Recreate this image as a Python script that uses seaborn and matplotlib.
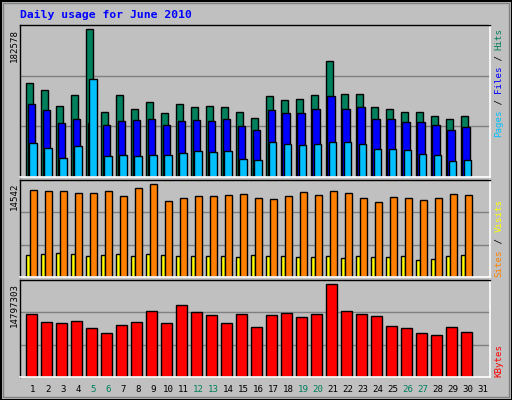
import matplotlib
matplotlib.use("Agg")
import matplotlib.pyplot as plt
import seaborn as sns
import pandas as pd
import numpy as np

days = list(range(1, 31))
hits = [115506,106812,88182,100602,182578,80730,100602,84456,91908,79488,90666,86940,88182,86940,80730,
        73278,99360,94392,95634,100602,142830,101844,101844,86940,84456,80730,80730,75762,72036,75762]
files = [90666,83214,67068,72036,67068,64584,69552,70794,72036,64584,69552,70794,69552,72036,63342,
         58374,83214,79488,79488,84456,99360,84456,86940,72036,72036,68310,68310,64584,58374,62100]
pages = [42228,36018,23598,38502,120474,26082,27324,26082,27324,27324,29808,32292,31050,32292,22356,
         21114,43470,40986,39744,40986,43470,43470,40986,34776,34776,33534,28566,27324,19872,21114]
visits = [13588,13430,13430,13114,13114,13430,12640,13904,14536,11850,12324,12640,12640,12798,12956,
          12324,12166,12640,13272,12798,13430,13114,12324,11692,12482,12324,12008,12324,12956,12798]
sites = [3476,3634,3792,3634,3318,3476,3634,3318,3634,3476,3318,3318,3318,3318,3160,
         3476,3318,3318,3160,3160,3318,3002,3318,3160,3160,3318,2686,2844,3318,3476]
kbytes = [10097,8801,8639,8963,7828,7018,8314,8801,10583,8639,11556,10421,9935,8639,10097,
          7990,9935,10259,9611,10097,14797,10583,10097,9773,8152,7828,7018,6694,7990,7180]
kbytes = [k * 1000 for k in kbytes]
day_labels = [str(d) for d in range(1, 32)]
weekends = [5, 6, 12, 13, 19, 20, 26, 27]
top_labels = ["182578", "14542", "14797303"]

sns.set_style("white")
plt.rcParams['font.family'] = ['DejaVu Sans Mono']
BG = '#C0C0C0'
GREEN = '#00805C'
W, H = 512, 400
fig = plt.figure(figsize=(5.12, 4.0), dpi=100, facecolor=BG)
fig.patches.append(plt.Rectangle((0.5/W, 0.5/H), 1-1/W, 1-1/H, transform=fig.transFigure,
                                 fill=False, ec='black', lw=1.5))
fig.patches.append(plt.Rectangle((3/W, 3/H), 1-6/W, 1-6/H, transform=fig.transFigure,
                                 fill=False, ec='#808080', lw=1))

def mkax(y0, y1):
    ax = fig.add_axes([20/W, 1-y1/H, 470/W, (y1-y0)/H])
    ax.set_facecolor(BG)
    ax.set_xlim(0.133, 31.47)
    ax.set_xticks([]); ax.set_yticks([])
    for s in ['top', 'left']:
        ax.spines[s].set_color('black'); ax.spines[s].set_linewidth(1)
    for s in ['bottom', 'right']:
        ax.spines[s].set_color('white'); ax.spines[s].set_linewidth(1.2)
    return ax

def grid(ax, ymax):
    for f in (1/3, 2/3):
        ax.axhline(ymax*f, color='#808080', lw=1, zorder=0)

kw = dict(edgecolor='black', linewidth=1, zorder=2)
d = np.array(days, dtype=float)

ax1 = mkax(25, 177)
ym1 = 182578 * 152 / 148
ax1.set_ylim(0, ym1); grid(ax1, ym1)
ax1.bar(d - 0.25, hits, width=0.47, color=GREEN, **kw)
ax1.bar(d - 0.13, files, width=0.47, color='#0000FF', **kw)
ax1.bar(d + 0.0, pages, width=0.47, color='#00C0FF', **kw)

ax2 = mkax(180, 277)
ym2 = 14542 * 97 / 93
ax2.set_ylim(0, ym2); grid(ax2, ym2)
ax2.bar(d - 0.35, sites, width=0.27, color='#FFFF00', **kw)
ax2.bar(d + 0.01, visits, width=0.47, color='#FF8000', **kw)

ax3 = mkax(280, 377)
ym3 = 14797303 * 97 / 92.7
ax3.set_ylim(0, ym3); grid(ax3, ym3)
df = pd.DataFrame({'x': d - 0.1, 'kb': kbytes})
sns.barplot(data=df, x='x', y='kb', native_scale=True, width=0.7, color='#FF0000',
            saturation=1, ax=ax3, edgecolor='black', linewidth=1, zorder=2)
ax3.set_xlim(0.133, 31.47); ax3.set_ylim(0, ym3)
ax3.set_xlabel(''); ax3.set_ylabel(''); ax3.set_xticks([]); ax3.set_yticks([])

fs = 6.6
fig.text(20/W, 1-15/H, "Daily usage for June 2010", color='#0000FF', fontsize=8.2,
         fontweight='bold', va='center', ha='left')

for lab, ytop in zip(top_labels, [29, 183, 283]):
    fig.text(14/W, 1-ytop/H, lab, rotation=90, fontsize=fs, ha='center', va='top', color='black')

def side(pieces, ybottom, step):
    i = 0
    for txt, col in pieces:
        fig.text(499/W, 1-(ybottom - step*i)/H, txt, rotation=90, fontsize=fs,
                 ha='center', va='bottom', color=col)
        i += len(txt)

side([("Pages", '#00C0FF'), (" / ", 'black'), ("Files", '#0000FF'), (" / ", 'black'), ("Hits", GREEN)], 137, 5.45)
side([("Sites", '#FF8000'), (" / ", 'black'), ("Visits", '#FFFF00')], 277, 5.6)
side([("KBytes", '#FF0000')], 377, 5.6)

for i, lab in enumerate(day_labels):
    x = 33 + 15*i
    col = GREEN if (i+1) in weekends else 'black'
    fig.text(x/W, 1-389/H, lab, fontsize=fs, ha='center', va='center', color=col)

fig.savefig("out.png", dpi=100, facecolor=BG)
